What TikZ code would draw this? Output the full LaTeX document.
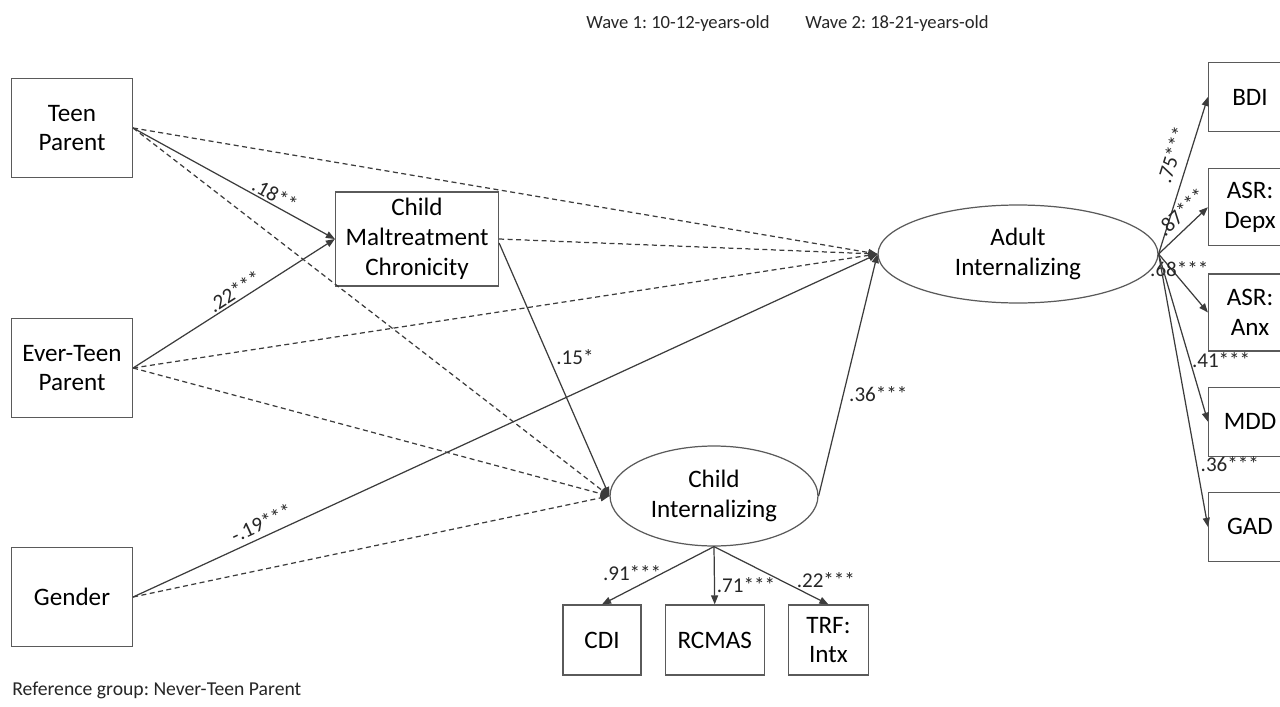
\documentclass[tikz,border=0pt]{standalone}
\usepackage{fontspec}
\setmainfont{Carlito}
\usetikzlibrary{shapes.geometric, arrows.meta, positioning}
\definecolor{cborde}{HTML}{5a5a5a}
\definecolor{clinea}{HTML}{3c3c3c}
\frenchspacing
\tikzset{
  caja/.style={rectangle, draw=cborde, line width=0.7pt, align=center, inner sep=0pt,
               font=\fontsize{14.3}{17}\selectfont},
  latente/.style={ellipse, draw=cborde, line width=0.7pt, align=center, inner sep=0pt,
                  font=\fontsize{14.3}{17.5}\selectfont},
  flecha/.style={-{Triangle[length=1.8mm, width=1.4mm]}, line width=0.7pt, draw=clinea},
  trazo/.style={flecha, dash pattern=on 1mm off 0.7mm},
  coef/.style={font=\fontsize{12}{13}\selectfont, inner sep=1pt, text=black!85},
  nota/.style={font=\fontsize{11.2}{13}\selectfont, inner sep=0pt, text=black!85},
}

\begin{document}
\begin{tikzpicture}[x=0.02cm, y=-0.02cm]
        \useasboundingbox (0,0) rectangle (1280,706);
        % predictors
        \node[caja, minimum width=2.42cm, minimum height=1.98cm] (tp) at (72,128) {Teen\\Parent};
        \node[caja, minimum width=2.42cm, minimum height=1.98cm] (etp) at (72,368) {Ever-Teen\\Parent};
        \node[caja, minimum width=2.42cm, minimum height=1.98cm] (gen) at (72,597) {Gender};
        \node[caja, minimum width=3.26cm, minimum height=1.88cm] (cmc) at (417,239) {Child\\Maltreatment\\Chronicity};
        % latent factors
        \node[latente, minimum width=4.16cm, minimum height=2cm] (cint) at (714,496) {Child\\Internalizing};
        \node[latente, minimum width=5.6cm, minimum height=1.96cm] (aint) at (1018,254) {Adult\\Internalizing};
        % child indicators
        \node[caja, minimum width=1.56cm, minimum height=1.4cm] (cdi) at (602,640) {CDI};
        \node[caja, minimum width=1.98cm, minimum height=1.4cm, right=0.46cm of cdi] (rcmas) {RCMAS};
        \node[caja, minimum width=1.6cm, minimum height=1.4cm, right=0.46cm of rcmas] (trf) {TRF:\\Intx};
        % adult indicators
        \node[caja, minimum width=1.66cm, minimum height=1.38cm] (bdi) at (1250,97) {BDI};
        \node[caja, minimum width=1.66cm, minimum height=1.54cm, below=0.72cm of bdi] (depx) {ASR:\\Depx};
        \node[caja, minimum width=1.66cm, minimum height=1.54cm, below=0.54cm of depx] (anx) {ASR:\\Anx};
        \node[caja, minimum width=1.66cm, minimum height=1.38cm, below=0.7cm of anx] (mdd) {MDD};
        \node[caja, minimum width=1.66cm, minimum height=1.38cm, below=0.7cm of mdd] (gad) {GAD};
        % headings
        \node[nota, font=\fontsize{10.6}{13}\selectfont] (w1) at (678,24) {Wave 1: 10-12-years-old};
        \node[nota, font=\fontsize{10.6}{13}\selectfont] (w2) at (897,24) {Wave 2: 18-21-years-old};
        \node[nota, anchor=west] (ref) at (12,690) {Reference group: Never-Teen Parent};
        % non-significant paths
        \draw[trazo] (tp.east) -- (aint.west);
        \draw[trazo] (tp.east) -- (cint.west);
        \draw[trazo] (cmc.east) -- (aint.west);
        \draw[trazo] (etp.east) -- (aint.west);
        \draw[trazo] (etp.east) -- (cint.west);
        \draw[trazo] (gen.east) -- (cint.west);
        % significant paths
        \draw[flecha] (tp.east) -- node[coef, sloped, above, pos=.68] {.18**} (cmc.west);
        \draw[flecha] (etp.east) -- node[coef, sloped, above, pos=.53] {.22***} (cmc.west);
        \draw[flecha] (gen.east) -- node[coef, sloped, above=2pt, pos=.18] {-.19***} (aint.west);
        \draw[flecha] (cmc.east) ++(0,4) -- node[coef, right=3pt, pos=.45] {.15*} (cint.west);
        \draw[flecha] (cint.east) -- node[coef, right=2pt, pos=.42] {.36***} (aint.west);
        % loadings
        \draw[flecha] (cint.south) -- node[coef, left=0pt, pos=.45] {.91***} (cdi.north);
        \draw[flecha] (cint.south) -- node[coef, right=0pt, pos=.66] {.71***} (rcmas.north);
        \draw[flecha] (cint.south) -- node[coef, right=8pt, pos=.58] {.22***} (trf.north);
        \draw[flecha] (aint.east) -- node[coef, sloped, above=4pt, pos=.6] {.75***} (bdi.west);
        \draw[flecha] (aint.east) -- node[coef, sloped, above=3pt, pos=.67] {.87***} (depx.west);
        \draw[flecha] (aint.east) -- node[coef, above, pos=.42] {.68***} (anx.west);
        \draw[flecha] (aint.east) -- node[coef, right=0pt, pos=.63] {.41***} (mdd.west);
        \draw[flecha] (aint.east) -- node[coef, right=1pt, pos=.77] {.36***} (gad.west);
\end{tikzpicture}
\end{document}
